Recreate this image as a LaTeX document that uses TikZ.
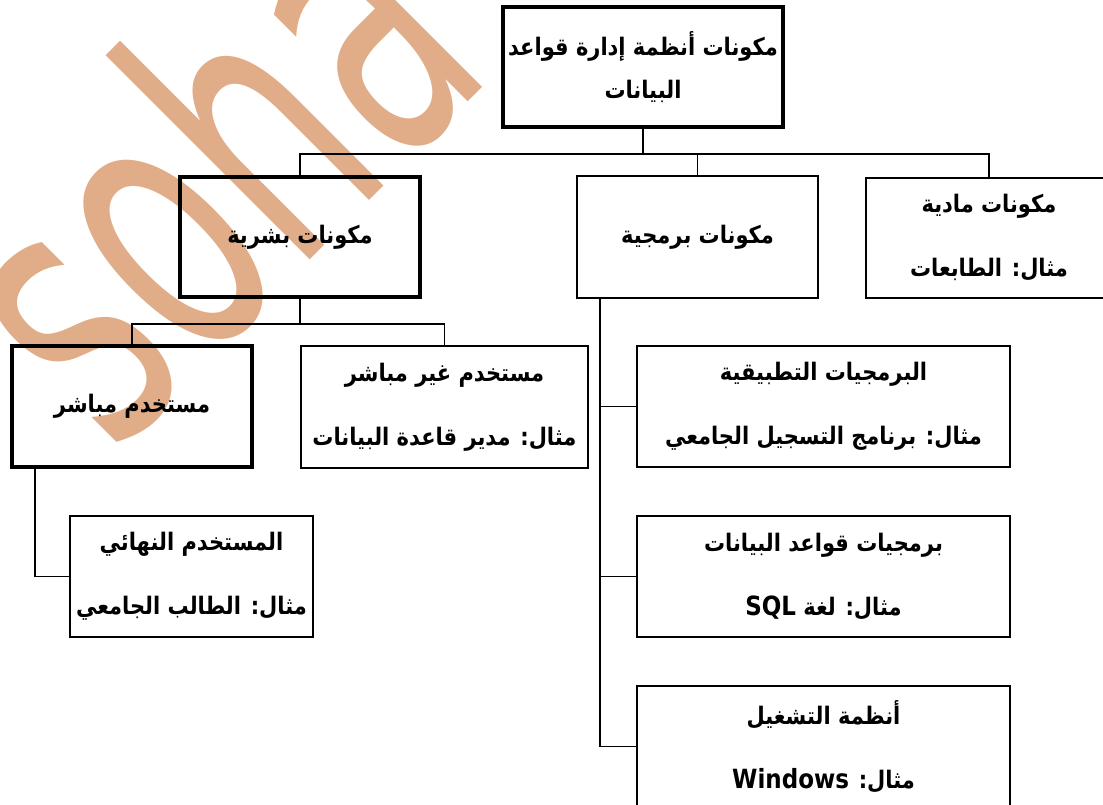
\documentclass[tikz,border=0pt]{standalone}
\usepackage{fontspec}
\setmainfont{DejaVu Sans}
\newfontfamily\arabicfont[Script=Arabic]{DejaVu Sans}
\newfontfamily\wmfont{DejaVu Sans}
\TeXXeTstate=1
\definecolor{wm}{RGB}{225,173,136}
\newcommand{\ar}[1]{\scalebox{1}[1.15]{\arabicfont\bfseries\beginR #1\endR}}
\newcommand{\lat}[1]{\beginL{\fontsize{23}{23}\selectfont\bfseries #1}\endL}
\tikzset{
  box/.style={draw=black, line width=1.8pt, inner sep=0pt, align=center,
    font=\fontsize{21}{64}\arabicfont},
  thickbox/.style={box, line width=3.5pt},
  conn/.style={draw=black, line width=1.8pt},
  rootconn/.style={draw=black, line width=2.6pt},
}
\begin{document}
\begin{tikzpicture}[x=1pt,y=-1pt]
\useasboundingbox (0,0) rectangle (1103,805);
% watermark
\node[rotate=45, anchor=base, inner sep=0pt, text=wm] (wmark) at (305,265)
  {\scalebox{0.6}[1]{\fontsize{380}{380}\wmfont soha}};

% boxes
\node[thickbox, minimum width=280pt, minimum height=120pt,
  font=\fontsize{21}{43}\arabicfont] (root) at (643,67)
  {\ar{مكونات أنظمة إدارة قواعد}\\\ar{البيانات}};
\node[thickbox, minimum width=240pt, minimum height=120pt] (b1) at (300,237)
  {\ar{مكونات بشرية}};
\node[box, minimum width=241pt, minimum height=122pt] (b2) at (697.5,237)
  {\ar{مكونات برمجية}};
\node[box, minimum width=246pt, minimum height=120pt] (m1) at (989,238)
  {\ar{مكونات مادية}\\\ar{مثال: الطابعات}};

\node[thickbox, minimum width=240pt, minimum height=121pt] (h1) at (132,406.5)
  {\ar{مستخدم مباشر}};
\node[box, minimum width=287pt, minimum height=122pt] (h2) at (444.5,407)
  {\ar{مستخدم غير مباشر}\\\ar{مثال: مدير قاعدة البيانات}};
\node[box, minimum width=243pt, minimum height=121pt] (e1) at (191.5,576.5)
  {\ar{المستخدم النهائي}\\\ar{مثال: الطالب الجامعي}};

\node[box, minimum width=373pt, minimum height=121pt] (s1) at (823.5,406.5)
  {\ar{البرمجيات التطبيقية}\\\ar{مثال: برنامج التسجيل الجامعي}};
\node[box, minimum width=373pt, minimum height=121pt] (s2) at (823.5,576.5)
  {\ar{برمجيات قواعد البيانات}\\\ar{مثال: لغة \lat{SQL}}};
\node[box, minimum width=373pt, minimum height=121pt] (s3) at (823.5,746.5)
  {\ar{أنظمة التشغيل}\\\ar{مثال: \lat{Windows}}};

% connectors
\draw[rootconn] (root.south) -- ++(0,25) coordinate (j1);
\draw[conn] (b1.north) |- (j1) -| (m1.north);
\draw[conn] (b2.north) -- (b2.north |- j1);

\draw[conn] (b1.south) -- ++(0,25) coordinate (j2);
\draw[conn] (h1.north) |- (j2) -| (h2.north);

\draw[conn] ([xshift=25pt]h1.south west) |- (e1.west);

\coordinate (sp) at ([xshift=24pt]b2.south west);
\draw[conn] (sp) |- (s1.west);
\draw[conn] (sp) |- (s2.west);
\draw[conn] (sp) |- (s3.west);
\end{tikzpicture}
\end{document}
